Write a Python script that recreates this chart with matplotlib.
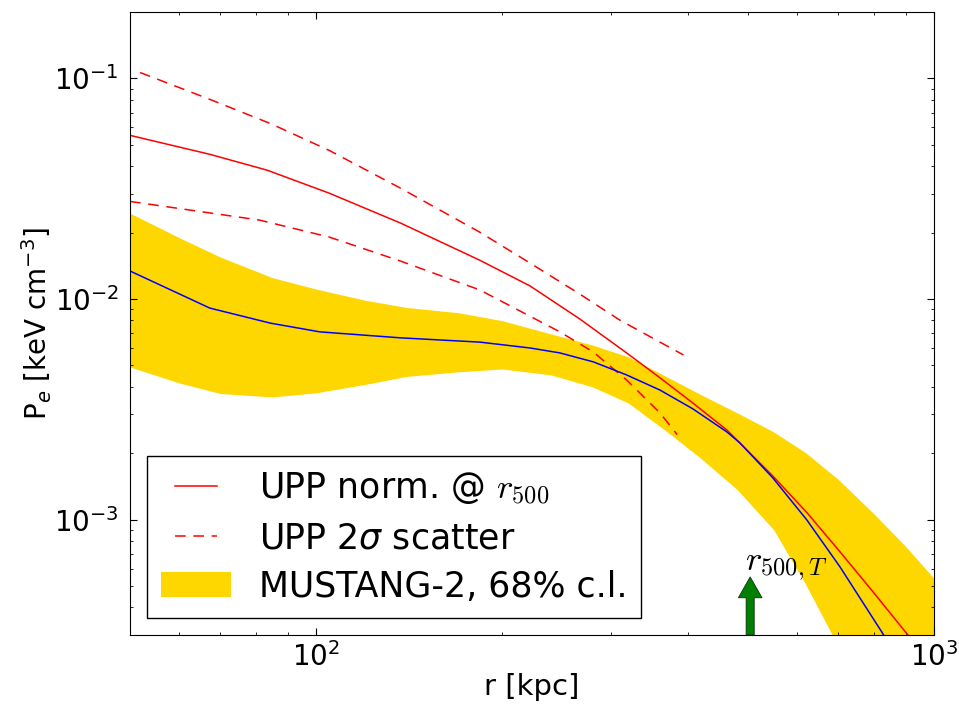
import matplotlib
matplotlib.use("Agg")
import matplotlib.pyplot as plt
from matplotlib.lines import Line2D
from matplotlib.legend_handler import HandlerLine2D

plt.rcParams['axes.unicode_minus'] = False

# MUSTANG-2 68% band (common radius grid)
r_band = [50, 60, 70, 85, 100, 120, 140, 170, 200, 240, 280, 320, 370,
          420, 480, 550, 620, 700, 800, 900, 1000]
band_hi = [0.0245, 0.0190, 0.0155, 0.0125, 0.0111, 0.00988, 0.00916, 0.00867,
           0.00798, 0.00695, 0.00619, 0.00547, 0.00443, 0.00368, 0.00305,
           0.0025, 0.00201, 0.00152, 0.00106, 0.000755, 0.000541]
band_lo = [0.00492, 0.00417, 0.00373, 0.00360, 0.00376, 0.0041, 0.00446,
           0.00468, 0.00482, 0.00453, 0.0040, 0.00338, 0.0025, 0.00189,
           0.00137, 0.000901, 0.000508, 0.000266, 0.0001, 0.0001, 0.0001]

# MUSTANG-2 best fit
r_m2 = [50, 67.3, 84.3, 101.4, 137, 184, 222, 248, 281, 318, 360, 407, 462,
        485, 548, 622, 704, 824, 865]
p_m2 = [0.0134, 0.0091, 0.00778, 0.0071, 0.00667, 0.00638, 0.0060, 0.0057,
        0.00519, 0.00453, 0.00387, 0.00318, 0.0025, 0.00223, 0.00155,
        0.0010, 0.000612, 0.000308, 0.000245]

# UPP normalised at r500
r_upp = [50, 67.3, 83.3, 105, 137, 184, 222, 267, 318, 360, 407, 462, 548,
         622, 704, 796, 908, 967]
p_upp = [0.0552, 0.0453, 0.0384, 0.0302, 0.0221, 0.0150, 0.01146, 0.00813,
         0.0057, 0.0044, 0.00338, 0.00255, 0.00158, 0.00108, 0.000716,
         0.000472, 0.000299, 0.000233]

# UPP 2 sigma scatter
r_hi = [51.9, 67.3, 84.3, 105, 137, 184, 222, 267, 310, 393]
p_hi = [0.1064, 0.0804, 0.0625, 0.0472, 0.0318, 0.0201, 0.01455, 0.01054,
        0.00803, 0.00558]
r_lo = [50, 81, 105, 137, 184, 248, 281, 318, 360, 384]
p_lo = [0.0277, 0.0228, 0.0191, 0.01486, 0.011, 0.0071, 0.00575, 0.0043,
        0.00305, 0.00243]

r500_T = 504
arrow_top = 5.5e-4

fig = plt.figure(figsize=(9.59, 7.08), dpi=100)
ax = fig.add_axes([0.1356, 0.1031, 0.8384, 0.8799])

ax.fill_between(r_band, band_lo, band_hi, color='gold', lw=0,
                label='MUSTANG-2, 68% c.l.')
ax.plot(r_upp, p_upp, color='red', lw=1.1, label=r'UPP norm. @ $r_{500}$')
ax.plot(r_hi, p_hi, color='red', lw=1.1, dashes=(7, 5),
        label=r'UPP 2$\sigma$ scatter')
ax.plot(r_lo, p_lo, color='red', lw=1.1, dashes=(7, 5))
ax.plot(r_m2, p_m2, color='blue', lw=1.1)

ax.set_xscale('log')
ax.set_yscale('log')
ax.set_xlim(50, 1000)
ax.set_ylim(3e-4, 0.2)

ax.annotate('', xy=(r500_T, arrow_top), xytext=(r500_T, 3e-4),
            arrowprops=dict(arrowstyle='simple,head_width=17,head_length=15,tail_width=5.8',
                            mutation_scale=1, fc='green', ec='#0a300a', lw=0.6,
                            shrinkA=0, shrinkB=0))
t = ax.text(494, 5.9e-4, r'$r_{500,T}$', fontsize=25,
            ha='left', va='baseline')
t.set_math_fontfamily('cm')

ax.set_xlabel('r [kpc]', fontsize=21, labelpad=1)
ax.set_ylabel(r'P$_e$ [keV cm$^{-3}$]', fontsize=20, labelpad=0)

ax.tick_params(which='both', direction='in', top=True, right=True)
ax.tick_params(which='major', length=5, labelsize=20)
ax.tick_params(which='minor', length=2.5)
ax.tick_params(axis='y', pad=8)
ax.tick_params(axis='x', pad=5)

handles, labels = ax.get_legend_handles_labels()
order = [1, 2, 0]
leg = ax.legend([handles[i] for i in order], [labels[i] for i in order],
                loc='lower left', fontsize=25, fancybox=False, framealpha=1,
                edgecolor='black', handlelength=2.0, labelspacing=0.42,
                borderaxespad=0.5,
                handler_map={Line2D: HandlerLine2D(numpoints=2, marker_pad=0.4)})
leg.get_frame().set_linewidth(1.0)
leg.get_texts()[0].set_math_fontfamily('cm')

fig.savefig('out.png', dpi=100)
